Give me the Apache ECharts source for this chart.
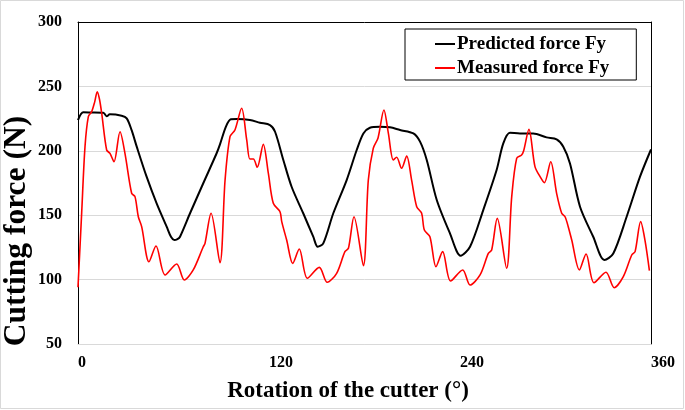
<!DOCTYPE html>
<html>
<head>
<meta charset="utf-8">
<script src="https://cdn.jsdelivr.net/npm/echarts@6/dist/echarts.min.js"></script>
<style>
html,body{margin:0;padding:0;background:#fff;}
#c{width:685px;height:410px;}
</style>
</head>
<body>
<div id="c"></div>
<script>
// ---- data ----
var xTicks = [0, 120, 240, 360];
var yTicks = [50, 100, 150, 200, 250, 300];
var seriesNames = ['Predicted force Fy', 'Measured force Fy'];

var predX = [0, 3.3, 8, 15.9, 18, 20, 27.4, 30.6, 33.7, 36.9, 43.1, 49.4, 55.7, 58.5, 60.5, 62.5, 64.1, 70.4, 78.7, 87.1,
  89.2, 93, 96, 99.7, 108, 114.3, 120.6, 123.8, 129, 134.2, 141.5, 147.8, 150.6, 154.1, 160.4, 168.8, 175.1, 179.3,
  183.4, 189.7, 196, 202.3, 210.7, 214.9, 219.1, 225.4, 233.7, 240.4, 246.3, 254.6, 263, 267.2, 271.4, 277.7, 286,
  294.4, 300.7, 304.9, 309.1, 315.4, 323.7, 330.7, 336.3, 344.7, 353.1, 360];
var predY = [223.9, 229.9, 229.8, 229.6, 226.8, 228.3, 227.2, 225.2, 216, 203.2, 179.9, 159.2, 141.1, 133, 130.7, 131.5, 133.3, 151.5, 174.8, 198.1,
  205, 219, 224.5, 224.7, 224, 221.8, 220, 214.8, 192.9, 172.1, 151.5, 133.3, 125.5, 128.1, 151.5, 177.3, 200.6, 213.5,
  217.9, 218.7, 218.2, 216.1, 213.5, 207.1, 192.9, 161.8, 135.9, 118.6, 125.5, 154, 185.1, 205.8, 214, 213.5, 213.5,
  210.4, 208.9, 203.2, 190.2, 156.6, 133.3, 115.2, 120.3, 148.8, 179.9, 201];

var measX = [0, 2.3, 4.4, 6.5, 8.6, 10.5, 12.1, 13.5, 14.9, 18, 20.1, 22.6, 26.4, 29.5, 33.7, 35.8, 37.9, 40, 44.6, 49,
  54.7, 62, 66.8, 72.4, 78.7, 79.8, 83.6, 89.2, 92.4, 95.5, 98.6, 102.8, 106, 108, 110.2, 112.6, 116.4, 119.6, 122.7,
  126.9, 128, 131.1, 134.9, 139, 144.1, 151.6, 156.6, 162.5, 167.7, 169.9, 173.4, 179.3, 182.4, 185.5, 188.5, 192.2,
  195, 198.1, 200.2, 203.3, 206.5, 209.6, 212.8, 215.9, 217.6, 221.1, 224.9, 229.1, 234.1, 241.7, 246.3, 252.6, 257.8,
  259.9, 263.4, 269.3, 272.5, 275.6, 278.7, 280, 283.3, 287.1, 290.3, 293, 297, 300.7, 303.9, 306, 308, 310.2, 315,
  319.2, 324.2, 331.7, 336.9, 342.6, 347.9, 350, 353.5, 356.2, 359];
var measY = [94, 151.5, 203.2, 226.5, 230.4, 238, 245.9, 240, 229, 200.6, 198, 191.5, 214.8, 198, 167, 164.4, 148.8, 141.1, 113.9, 126.1,
  103.6, 112.1, 99.7, 107.5, 125.5, 128.1, 151.5, 113.1, 177.3, 211, 216.1, 233, 208.4, 193.6, 193.6, 187.2, 205, 182.4, 159.2,
  152.7, 145, 130.7, 112.6, 123.8, 101, 109.5, 97.9, 104.9, 121.7, 124.3, 148.8, 110.8, 177.3, 201.9, 210, 231.7,
  213.5, 192.9, 195, 186.4, 196, 177.3, 156.6, 151.5, 138.5, 133.3, 110, 121.7, 98.9, 107.5, 95.8, 103.6, 120.3,
  123, 147.5, 108.8, 164.4, 194.1, 196.7, 200, 216.6, 187.7, 179.9, 175.2, 191.5, 167, 151.5, 148.8, 141.1, 130.7, 107.5,
  119.9, 97.6, 105.7, 93.7, 102.3, 119.1, 121.7, 145, 130.7, 106.9];

function pairs(xs, ys) { return xs.map(function (x, i) { return [x, ys[i]]; }); }

var FONT = '"Liberation Serif", "Times New Roman", serif';
var chart = echarts.init(document.getElementById('c'), null, { renderer: 'canvas' });
chart.setOption({
  animation: false,
  backgroundColor: '#fff',
  grid: { left: 78, right: 34, top: 22, bottom: 66 },
  legend: {
    orient: 'vertical',
    left: 405, top: 29,
    padding: [5, 27, 2, 30],
    itemGap: 4,
    itemWidth: 20, itemHeight: 2,
    icon: 'rect',
    borderColor: '#000', borderWidth: 1,
    textStyle: { fontFamily: FONT, fontWeight: 'bold', fontSize: 19, color: '#000', lineHeight: 20, padding: [0, 0, 0, -3] },
    data: seriesNames
  },
  xAxis: [{
    type: 'value', min: xTicks[0], max: xTicks[xTicks.length - 1], interval: 120,
    axisLine: { show: true, lineStyle: { color: '#d9d9d9', width: 1 } },
    axisTick: { show: false },
    splitLine: { show: false },
    axisLabel: { fontFamily: FONT, fontWeight: 'bold', fontSize: 16, color: '#000', align: 'left', margin: 11 }
  }, {
    type: 'value', position: 'top', min: 0, max: 360,
    axisLine: { show: true, onZero: false, lineStyle: { color: '#000', width: 1 } },
    axisTick: { show: false }, axisLabel: { show: false }, splitLine: { show: false }
  }],
  yAxis: [{
    type: 'value', min: yTicks[0], max: yTicks[yTicks.length - 1], interval: 50,
    axisLine: { show: true, onZero: false, lineStyle: { color: '#000', width: 1 } },
    axisTick: { show: false },
    splitLine: { show: true, lineStyle: { color: '#d9d9d9', width: 1 } },
    axisLabel: { fontFamily: FONT, fontWeight: 'bold', fontSize: 16, color: '#000', margin: 16 }
  }, {
    type: 'value', position: 'right', min: 50, max: 300,
    axisLine: { show: true, onZero: false, lineStyle: { color: '#000', width: 1 } },
    axisTick: { show: false }, axisLabel: { show: false }, splitLine: { show: false }
  }],
  graphic: [
    { type: 'rect', shape: { x: 0.5, y: 0.5, width: 683, height: 408 }, style: { fill: 'none', stroke: '#d9d9d9', lineWidth: 1 }, silent: true, z: -1 },
    { type: 'text', x: 17, y: 231, rotation: Math.PI / 2,
      style: { text: 'Cutting force (N)', font: 'bold 31.5px ' + FONT, fill: '#000', textAlign: 'center', textVerticalAlign: 'middle' } },
    { type: 'text', x: 348, y: 391,
      style: { text: 'Rotation of the cutter (°)', font: 'bold 23px ' + FONT, fill: '#000', textAlign: 'center', textVerticalAlign: 'middle' } }
  ],
  series: [{
    name: seriesNames[0], type: 'line', data: pairs(predX, predY),
    smooth: 0.3, showSymbol: false, color: '#000',
    lineStyle: { color: '#000', width: 2 }, z: 3
  }, {
    name: seriesNames[1], type: 'line', data: pairs(measX, measY),
    smooth: 0.3, showSymbol: false, color: '#ff0000',
    lineStyle: { color: '#ff0000', width: 1.6 }, z: 4
  }]
});
</script>
</body>
</html>
